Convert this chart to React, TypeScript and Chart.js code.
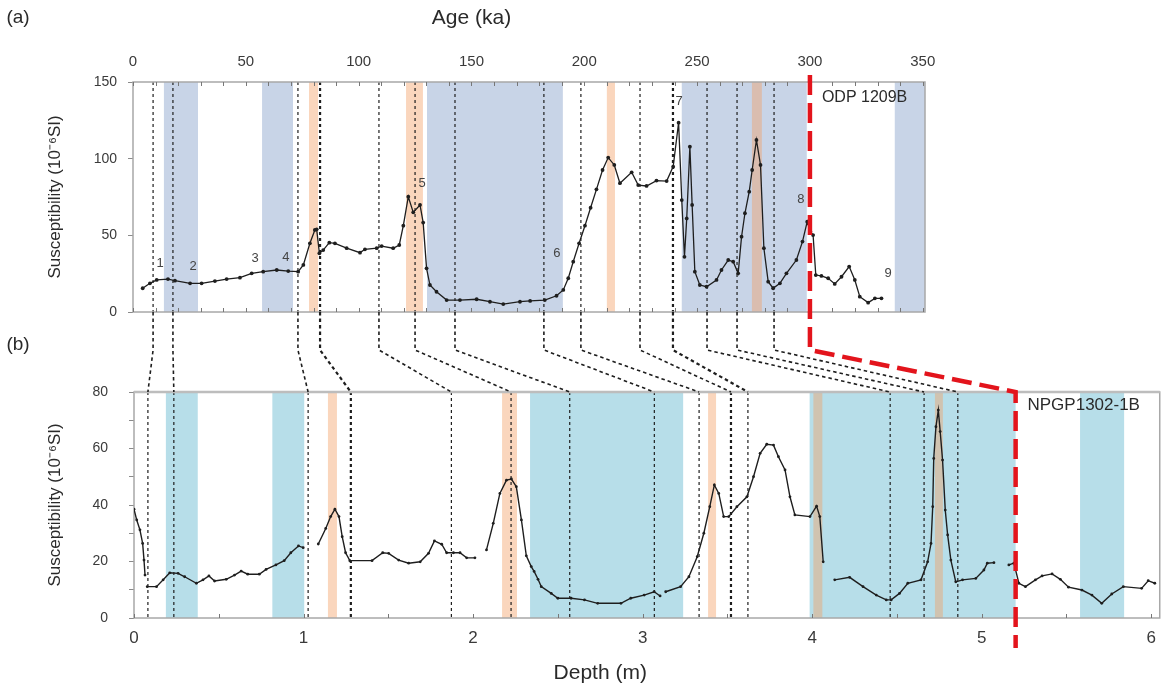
import { useEffect, useRef } from 'react';
import { Chart, registerables } from 'chart.js';

Chart.register(...registerables);

const FONT = "'Liberation Sans', Arial, Helvetica, sans-serif";
Chart.defaults.font.family = FONT;

const INK = '#1e1e1e';
const AXIS_TEXT = '#3a3a3a';
const FRAME = '#a8a8a8';
const ODP_BLUE = 'rgb(200, 212, 231)';
const CORE_BLUE = 'rgb(183, 222, 233)';
const ORANGE = 'rgba(244, 158, 98, 0.42)';
const RED = '#e3141c';

// ---- (a) ODP 1209B magnetic susceptibility versus age ----
const ageKa = [
  4.3, 7.5, 10.5, 15.5, 18.6, 25.3, 30.4, 36.3, 41.5, 47.4, 52.6, 57.7, 63.7, 68.8, 73.2, 75.5,
  78.4, 80.6, 81.4, 82.6, 84.3, 87, 89.5, 94.7, 100.6, 102.8, 108, 110.2, 115.3, 118, 119.8, 122,
  124.2, 127.2, 128.6, 130.1, 131.6, 134.5, 139, 144.9, 152.3, 158.2, 164.1, 171.5, 176, 182.5,
  187.7, 190.7, 192.9, 195.1, 197.7, 200.3, 202.8, 205.4, 208.1, 210.6, 213.3, 215.8, 221, 223.9,
  227.6, 232, 236.5, 239.4, 241.8, 243.2, 244.4, 245.4, 246.8, 247.8, 249, 251.2, 254.2, 258.6,
  260.8, 263.8, 266, 268.2, 269.7, 271.2, 273.1, 274.4, 276.3, 278.1, 279.6, 281.5, 283.7, 286.7,
  289.6, 294, 296.7, 298.8, 300.2, 301.4, 302.6, 305.1, 308.1, 311, 314, 317.4, 319.9, 322.1,
  325.8, 328.8, 331.7,
];
const suscODP = [
  15.5, 18.7, 20.9, 21.5, 20.4, 18.7, 18.7, 20.2, 21.5, 22.4, 25.2, 26.3, 27.4, 26.7, 26.3, 30.7,
  44.8, 53.5, 53.9, 38.3, 40.4, 45.2, 44.8, 41.6, 38.7, 40.9, 41.6, 43, 41.6, 43.7, 56.3, 75.2,
  65, 69.8, 58.3, 28.5, 17.6, 13.2, 7.8, 7.8, 8.3, 6.7, 5.2, 6.7, 7.2, 7.8,
  10.6, 14.4, 22, 32.8, 44.8, 56.3, 68, 80, 92.6, 100.7, 95.9, 84, 91.1, 82.8,
  82.2, 85.7, 85.4, 94.8, 123.5, 73, 36, 61, 107.8, 69.8, 26.3, 17.6, 16.5, 20.9,
  27.4, 33.9, 32.8, 25.2, 49.1, 64.4, 78.5, 92.6, 112.2, 95.9, 41.6, 19.8, 15.5, 18.7,
  25.2, 33.9, 45.9, 58.9, 52.4, 50.2, 24.1, 23.5, 22, 18.3, 23, 29.6, 20.9, 10,
  6.1, 8.9, 8.9,
];

// numbered events marked along the ODP record
const eventText = ['1', '2', '3', '4', '5', '6', '7', '8', '9'];
const eventAge = [12.0, 26.6, 54.1, 67.8, 128.1, 187.9, 242.0, 296.0, 334.6];
const eventSusc = [32, 29.4, 35.2, 35.9, 84.1, 38.5, 137.6, 73.1, 25.4];

const ageBlueBands = [[13.7, 28.8], [57.2, 70.9], [130.3, 190.5], [243.2, 298.6], [337.6, 351]];
const ageOrangeBands = [[78, 82], [121, 128.5], [210, 213.6], [274.3, 278.7]];

// ---- (b) NPGP1302-1B magnetic susceptibility versus depth (null = section break) ----
const depthM = [
  0.0, 0.016, 0.035, 0.051, 0.059, 0.065, 0.072,
  0.078, 0.133, 0.172, 0.211, 0.26, 0.299, 0.368, 0.407, 0.442, 0.475, 0.544, 0.593, 0.632, 0.671,
  0.739, 0.779, 0.837, 0.886, 0.925, 0.97, 0.998, 1.04,
  1.087, 1.131, 1.16, 1.185, 1.209, 1.228, 1.248, 1.273, 1.404, 1.467, 1.502, 1.561, 1.62, 1.688,
  1.737, 1.772, 1.815, 1.844, 1.884, 1.923, 1.962, 2.011, 2.05,
  2.079, 2.119, 2.158, 2.197, 2.226, 2.255, 2.285, 2.314, 2.343, 2.36, 2.383, 2.402, 2.461, 2.5,
  2.578, 2.657, 2.735, 2.872, 2.93, 3.009, 3.068, 3.103, 3.12,
  3.136, 3.224, 3.273, 3.322, 3.361, 3.396, 3.423, 3.449, 3.478, 3.508, 3.556, 3.615, 3.654, 3.693,
  3.732, 3.772, 3.801, 3.84, 3.869, 3.898, 3.987, 4.026, 4.045, 4.065, 4.1,
  4.133, 4.221, 4.3, 4.378, 4.437, 4.466, 4.515, 4.564, 4.642, 4.681, 4.701, 4.711, 4.717, 4.73,
  4.744, 4.755, 4.769, 4.785, 4.799, 4.818, 4.847, 4.887, 4.965, 5.013, 5.033, 5.072, 5.12,
  5.16, 5.19, 5.219, 5.258, 5.317, 5.356, 5.415, 5.464, 5.512, 5.591, 5.65, 5.708, 5.767, 5.835,
  5.943, 5.982, 6.021,
];
const suscNPGP = [
  38.5, 34.7, 31.2, 26.4, 20.5, 15.2, null,
  11.1, 11.1, 13.5, 16.0, 15.8, 14.6, 12.3, 13.5, 14.9, 13.1, 13.7, 15.2, 16.6, 15.5,
  15.5, 17.2, 18.8, 20.3, 23.1, 25.5, 24.9, null,
  26.2, 31.7, 35.9, 38.5, 35.9, 28.8, 23.1, 20.3, 20.3, 23.1, 22.9, 20.5, 19.4, 19.9,
  22.9, 27.3, 26.1, 23.1, 23.1, 23.1, 21.3, 21.3, null,
  24.1, 33.5, 44.1, 48.8, 49.2, 46.5, 34.7, 22.0, 18.2, 16.5, 13.7, 11.1, 8.7, 7.0,
  7.0, 6.4, 5.2, 5.2, 7.0, 8.1, 9.3, 7.8, null,
  9.3, 11.1, 14.6, 21.7, 30.0, 39.4, 47.1, 44.1, 35.9, 35.9, 39.4, 42.9, 50.0, 58.3,
  61.5, 61.2, 57.1, 52.4, 42.9, 36.5, 35.9, 39.6, 35.9, 19.9, null,
  13.5, 14.4, 11.1, 8.1, 6.4, 6.4, 8.7, 12.3, 13.5, 19.9, 26.4, 39.4, 56.5, 67.7,
  73.6, 66.0, 55.9, 38.2, 29.4, 20.5, 12.8, 13.5, 14.0, 17.0, 19.4, 19.6, null,
  18.8, 19.4, 12.3, 11.1, 13.5, 14.9, 15.6, 13.7, 10.9, 9.9, 8.1, 5.2, 8.5, 11.1,
  10.5, 13.2, 12.3,
];

const depthBlueBands = [[0.188, 0.376], [0.816, 1.004], [2.336, 3.239], [3.985, 5.2], [5.58, 5.84]];
const depthOrangeBands = [[1.144, 1.197], [2.171, 2.259], [3.386, 3.433], [4.007, 4.06], [4.724, 4.771]];

// tie points between the age model (ka) and core depth (m)
const tieAge = [8.9, 17.7, 73.1, 82.9, 109.0, 125.0, 142.7, 182.1, 198.5, 224.7, 239.3, 254.4, 267.7, 284.1];
const tieDepth = [0.082, 0.235, 1.027, 1.279, 1.872, 2.224, 2.57, 3.069, 3.333, 3.521, 3.621, 4.46, 4.66, 4.859];
const baseTieAge = 300;
const baseTieDepth = 5.2;

// heavier dashed ties
const BOLD_AGE_TIES = new Set([3, 10]);
const BOLD_DEPTH_TIES = new Set([3, 9]);

const Y_TITLE = 'Susceptibility (10\u207B\u2076SI)';

type Area = { left: number; right: number; top: number; bottom: number };

function fillBands(ctx: CanvasRenderingContext2D, area: Area, scale: any, bands: number[][], color: string) {
  ctx.fillStyle = color;
  for (const [a, b] of bands) {
    const x1 = Math.max(area.left, scale.getPixelForValue(a));
    const x2 = Math.min(area.right, scale.getPixelForValue(b));
    ctx.fillRect(x1, area.top, x2 - x1, area.bottom - area.top);
  }
}

function dashedPath(ctx: CanvasRenderingContext2D, pts: number[][], width: number, color: string, dash: number[]) {
  ctx.save();
  ctx.beginPath();
  ctx.setLineDash(dash);
  ctx.lineWidth = width;
  ctx.strokeStyle = color;
  ctx.lineJoin = 'miter';
  pts.forEach(([x, y], i) => (i ? ctx.lineTo(x, y) : ctx.moveTo(x, y)));
  ctx.stroke();
  ctx.restore();
}

function innerTicks(ctx: CanvasRenderingContext2D, scale: any, y: number, dir: number, len: number) {
  ctx.save();
  ctx.strokeStyle = '#777';
  ctx.lineWidth = 1;
  ctx.beginPath();
  for (const t of scale.ticks) {
    const px = Math.round(scale.getPixelForValue(t.value)) + 0.5;
    if (px < scale.left - 1 || px > scale.right + 1) continue;
    ctx.moveTo(px, y);
    ctx.lineTo(px, y + dir * len);
  }
  ctx.stroke();
  ctx.restore();
}

function strokeFrame(ctx: CanvasRenderingContext2D, area: Area, width: number, topWidth: number) {
  ctx.save();
  ctx.strokeStyle = FRAME;
  ctx.lineWidth = width;
  ctx.strokeRect(area.left, area.top, area.right - area.left, area.bottom - area.top);
  if (topWidth > width) {
    ctx.strokeStyle = '#bdbdbd';
    ctx.lineWidth = topWidth;
    ctx.beginPath();
    ctx.moveTo(area.left, area.top);
    ctx.lineTo(area.right, area.top);
    ctx.stroke();
  }
  ctx.restore();
}

function text(ctx: CanvasRenderingContext2D, s: string, x: number, y: number, size: number, align: CanvasTextAlign, color = '#333') {
  ctx.save();
  ctx.font = `${size}px ${FONT}`;
  ctx.fillStyle = color;
  ctx.textAlign = align;
  ctx.textBaseline = 'middle';
  ctx.fillText(s, x, y);
  ctx.restore();
}

const odpPanel = {
  id: 'odpPanel',
  beforeDatasetsDraw(chart: any) {
    const { ctx, chartArea: area } = chart;
    const x = chart.scales.x;
    ctx.save();
    fillBands(ctx, area, x, ageBlueBands, ODP_BLUE);
    fillBands(ctx, area, x, ageOrangeBands, ORANGE);
    tieAge.forEach((age, i) => {
      const px = x.getPixelForValue(age);
      dashedPath(ctx, [[px, area.top], [px, area.bottom]], BOLD_AGE_TIES.has(i) ? 2.2 : 1.2, INK, [3, 3]);
    });
    strokeFrame(ctx, area, 1.5, 1.5);
    innerTicks(ctx, x, area.top, 1, 4);
    innerTicks(ctx, x, area.bottom, -1, 4);
    ctx.restore();
  },
  afterDraw(chart: any) {
    const { ctx } = chart;
    const x = chart.scales.x;
    const y = chart.scales.y;
    eventText.forEach((s, i) => {
      text(ctx, s, x.getPixelForValue(eventAge[i]), y.getPixelForValue(eventSusc[i]), 13, 'center', '#444');
    });
    text(ctx, 'ODP 1209B', x.getPixelForValue(305.3), y.getPixelForValue(140), 16, 'left', '#2a2a2a');
    text(ctx, 'Age (ka)', x.getPixelForValue(150), 18, 21, 'center', '#2a2a2a');
    text(ctx, '(a)', 18, 18, 19, 'center', '#2a2a2a');
  },
};

function makeCorePanel(odp: Chart) {
  return {
    id: 'corePanel',
    beforeDatasetsDraw(chart: any) {
      const { ctx, chartArea: area } = chart;
      const x = chart.scales.x;
      ctx.save();
      fillBands(ctx, area, x, depthBlueBands, CORE_BLUE);
      fillBands(ctx, area, x, depthOrangeBands, ORANGE);
      tieDepth.forEach((d, i) => {
        const px = x.getPixelForValue(d);
        dashedPath(ctx, [[px, area.top], [px, area.bottom]], BOLD_DEPTH_TIES.has(i) ? 2.2 : 1.2, INK, [3, 3]);
      });
      strokeFrame(ctx, area, 1.5, 2.5);
      innerTicks(ctx, x, area.bottom, -1, 4);
      ctx.restore();
    },
    afterDraw(chart: any) {
      const { ctx, chartArea: area } = chart;
      const xd = chart.scales.x;
      const yd = chart.scales.y;
      const xa: any = odp.scales.x;
      const topArea = odp.chartArea;
      const bend = topArea.bottom + (area.top - topArea.bottom) * 0.475;
      // connectors between the two records
      tieAge.forEach((age, i) => {
        const x1 = xa.getPixelForValue(age);
        const x2 = xd.getPixelForValue(tieDepth[i]);
        dashedPath(
          ctx,
          [[x1, topArea.bottom], [x1, bend], [x2, area.top]],
          BOLD_AGE_TIES.has(i) ? 2.2 : 1.6,
          INK,
          [3.5, 3],
        );
      });
      const r1 = xa.getPixelForValue(baseTieAge);
      const r2 = xd.getPixelForValue(baseTieDepth);
      dashedPath(
        ctx,
        [[r1, topArea.top - 7], [r1, bend], [r2, area.top], [r2, area.bottom + 30]],
        4.5,
        RED,
        [20, 8],
      );
      text(ctx, 'NPGP1302-1B', xd.getPixelForValue(5.27), yd.getPixelForValue(75.4), 17, 'left', '#2a2a2a');
      text(ctx, 'Depth (m)', xd.getPixelForValue(2.75), 673, 21, 'center', '#2a2a2a');
      text(ctx, '(b)', 18, 345, 19, 'center', '#2a2a2a');
    },
  };
}

export default function App() {
  const odpRef = useRef<HTMLCanvasElement>(null);
  const coreRef = useRef<HTMLCanvasElement>(null);

  useEffect(() => {
    const odp = new Chart(odpRef.current!, {
      type: 'line',
      data: {
        datasets: [
          {
            data: ageKa.map((a, i) => ({ x: a, y: suscODP[i] })),
            borderColor: INK,
            borderWidth: 1.3,
            pointRadius: 1.9,
            pointHoverRadius: 0,
            pointBorderWidth: 0,
            pointBackgroundColor: INK,
            tension: 0,
          },
        ],
      },
      options: {
        responsive: false,
        animation: false,
        events: [],
        layout: { padding: { left: 45, top: 0, right: 241, bottom: 378 } },
        plugins: { legend: { display: false }, tooltip: { enabled: false } },
        scales: {
          x: {
            type: 'linear',
            position: 'top',
            min: 0,
            max: 351,
            grid: { display: false, drawTicks: false },
            border: { display: false },
            ticks: {
              stepSize: 10,
              includeBounds: false,
              autoSkip: false,
              maxRotation: 0,
              padding: 11,
              color: AXIS_TEXT,
              font: { size: 15 },
              callback: (v: any) => (Math.round(v) % 50 === 0 ? String(Math.round(v)) : ''),
            },
            afterFit: (s: any) => {
              s.height = 82;
            },
          },
          y: {
            min: 0,
            max: 150,
            grid: { drawOnChartArea: false, drawTicks: true, tickLength: 5, color: '#8a8a8a' },
            border: { display: false },
            ticks: { stepSize: 50, padding: 11, color: AXIS_TEXT, font: { size: 14 } },
            title: {
              display: true,
              text: Y_TITLE,
              color: '#2a2a2a',
              font: { size: 17 },
              padding: { top: 0, bottom: 0 },
            },
            afterFit: (s: any) => {
              s.width = 88;
            },
          },
        },
      },
      plugins: [odpPanel],
    });

    const core = new Chart(coreRef.current!, {
      type: 'line',
      data: {
        datasets: [
          {
            data: depthM.map((d, i) => ({ x: d, y: suscNPGP[i] })),
            borderColor: INK,
            borderWidth: 1.4,
            pointRadius: 1.4,
            pointHoverRadius: 0,
            pointBorderWidth: 0,
            pointBackgroundColor: INK,
            tension: 0,
            spanGaps: false,
          },
        ],
      },
      options: {
        responsive: false,
        animation: false,
        events: [],
        layout: { padding: { left: 45, top: 392, right: 1, bottom: 32 } },
        plugins: { legend: { display: false }, tooltip: { enabled: false } },
        scales: {
          x: {
            type: 'linear',
            position: 'bottom',
            min: 0,
            max: 6.05,
            grid: { display: false, drawTicks: false },
            border: { display: false },
            ticks: {
              stepSize: 0.5,
              includeBounds: false,
              autoSkip: false,
              maxRotation: 0,
              padding: 10,
              color: AXIS_TEXT,
              font: { size: 17 },
              callback: (v: any) => (Math.abs(v - Math.round(v)) < 1e-6 ? String(Math.round(v)) : ''),
            },
            afterFit: (s: any) => {
              s.height = 40;
            },
          },
          y: {
            min: 0,
            max: 80,
            grid: { drawOnChartArea: false, drawTicks: true, tickLength: 5, color: '#8a8a8a' },
            border: { display: false },
            ticks: {
              stepSize: 10,
              padding: 21,
              color: AXIS_TEXT,
              font: { size: 14 },
              callback: (v: any) => (Math.round(v) % 20 === 0 ? String(Math.round(v)) : ''),
            },
            title: {
              display: true,
              text: Y_TITLE,
              color: '#2a2a2a',
              font: { size: 17 },
              padding: { top: 0, bottom: 0 },
            },
            afterFit: (s: any) => {
              s.width = 89;
            },
          },
        },
      },
      plugins: [makeCorePanel(odp)],
    });

    return () => {
      core.destroy();
      odp.destroy();
    };
  }, []);

  return (
    <div style={{ position: 'absolute', left: 0, top: 0, width: 1166, height: 690, background: '#fff' }}>
      <canvas ref={odpRef} width={1166} height={690} style={{ position: 'absolute', left: 0, top: 0 }} />
      <canvas ref={coreRef} width={1166} height={690} style={{ position: 'absolute', left: 0, top: 0 }} />
    </div>
  );
}
